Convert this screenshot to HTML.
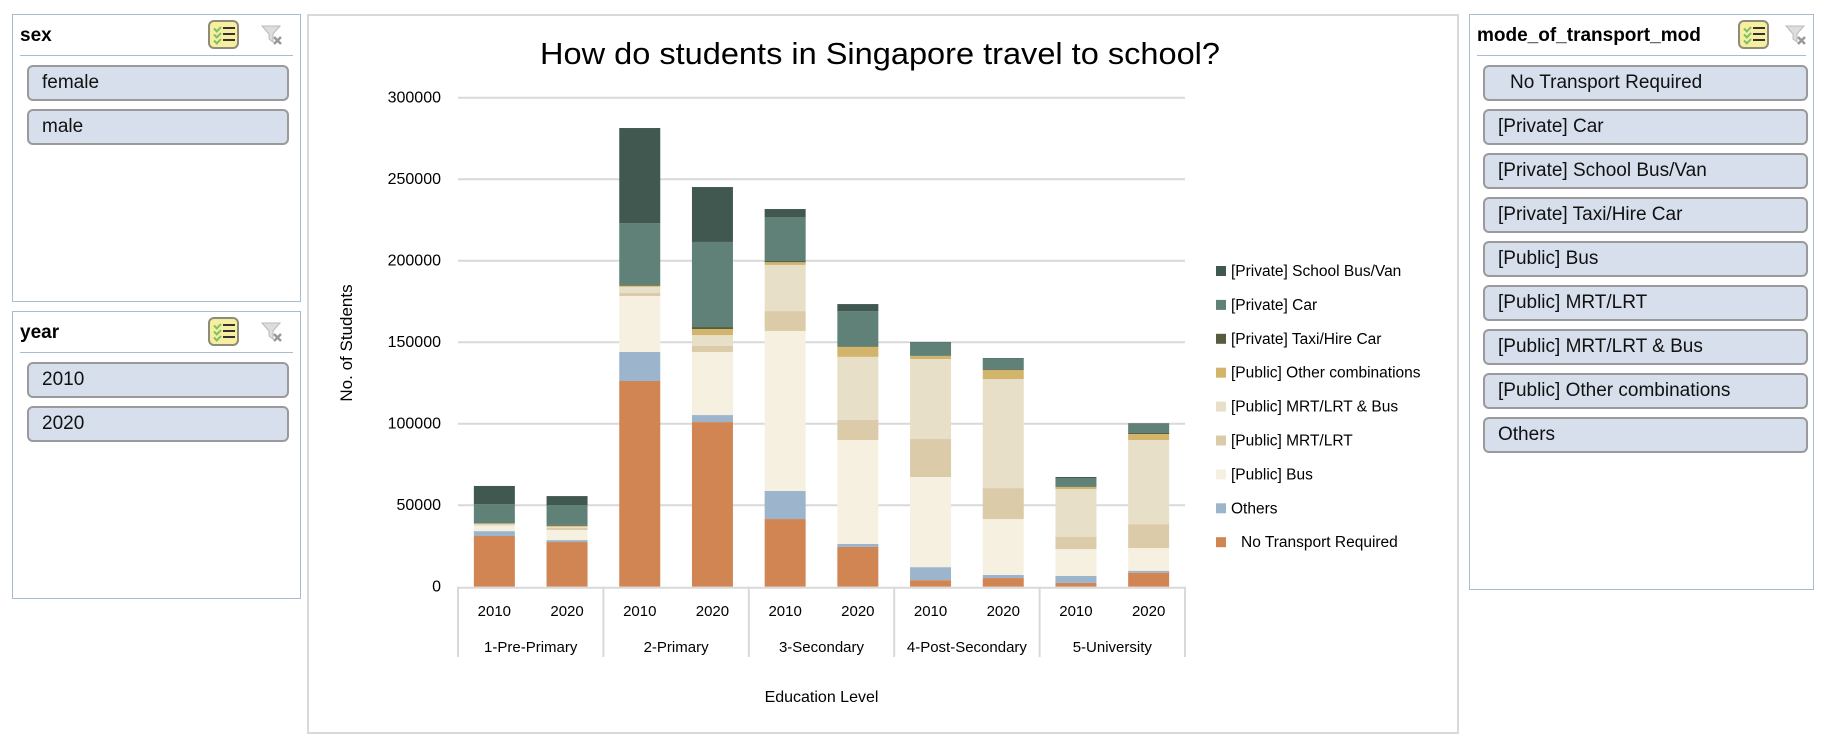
<!DOCTYPE html>
<html><head><meta charset="utf-8">
<style>
body{margin:0;width:1840px;height:748px;background:#fff;font-family:"Liberation Sans",sans-serif;overflow:hidden;position:relative}
.panel{position:absolute;border:1px solid #a7bcd3;background:#fff;box-sizing:border-box}
.ph{position:absolute;left:7px;top:10px;font-weight:bold;font-size:19px;color:#000}
.hl{position:absolute;left:7px;right:7px;top:40px;border-top:1px solid #a7bcd3}
.item{position:absolute;height:36px;border:2px solid #9a9a9a;border-radius:6px;background:#d6dfeb;box-sizing:border-box;font-size:19px;line-height:32px;color:#111}
.ic{position:absolute;width:31px;height:29px;border:2px solid #8c8c7a;border-radius:6px;background:#f7eea0;box-sizing:border-box}
.ic i{position:absolute;left:13px;width:12px;border-top:2px solid #333}
.ic b{position:absolute;left:4px;width:5px;height:3px;border-left:2px solid #7cc06a;border-bottom:2px solid #7cc06a;transform:rotate(-45deg)}
.fl{position:absolute;width:24px;height:24px}
</style></head><body>

<div class="panel" style="left:12px;top:14px;width:289px;height:288px">
 <div class="ph">sex</div>
 <div class="ic" style="left:195px;top:5px"><b style="top:4px"></b><i style="top:5px"></i><b style="top:10px"></b><i style="top:11px"></i><b style="top:16px"></b><i style="top:17px"></i></div>
 <svg class="fl" style="left:247px;top:8px" viewBox="0 0 24 24"><path d="M2 3h18l-7 8v8l-4-3v-5z" fill="#ddd" stroke="#bbb"/><path d="M14 14l7 7M21 14l-7 7" stroke="#999" stroke-width="2.5"/></svg>
 <div class="hl"></div>
 <div class="item" style="left:14px;top:50px;width:262px;padding-left:13px">female</div>
 <div class="item" style="left:14px;top:94px;width:262px;padding-left:13px">male</div>
</div>

<div class="panel" style="left:12px;top:311px;width:289px;height:288px">
 <div class="ph">year</div>
 <div class="ic" style="left:195px;top:5px"><b style="top:4px"></b><i style="top:5px"></i><b style="top:10px"></b><i style="top:11px"></i><b style="top:16px"></b><i style="top:17px"></i></div>
 <svg class="fl" style="left:247px;top:8px" viewBox="0 0 24 24"><path d="M2 3h18l-7 8v8l-4-3v-5z" fill="#ddd" stroke="#bbb"/><path d="M14 14l7 7M21 14l-7 7" stroke="#999" stroke-width="2.5"/></svg>
 <div class="hl"></div>
 <div class="item" style="left:14px;top:50px;width:262px;padding-left:13px">2010</div>
 <div class="item" style="left:14px;top:94px;width:262px;padding-left:13px">2020</div>
</div>

<div class="panel" style="left:1469px;top:14px;width:345px;height:576px">
 <div class="ph">mode_of_transport_mod</div>
 <div class="ic" style="left:268px;top:5px"><b style="top:4px"></b><i style="top:5px"></i><b style="top:10px"></b><i style="top:11px"></i><b style="top:16px"></b><i style="top:17px"></i></div>
 <svg class="fl" style="left:314px;top:8px" viewBox="0 0 24 24"><path d="M2 3h18l-7 8v8l-4-3v-5z" fill="#ddd" stroke="#bbb"/><path d="M14 14l7 7M21 14l-7 7" stroke="#999" stroke-width="2.5"/></svg>
 <div class="hl"></div>
 <div id="titems"></div>
</div>

<div class="panel" style="left:307px;top:14px;width:1152px;height:720px;border:2px solid #d9d9d9">
<svg id="chart" width="1152" height="720" style="position:absolute;left:-2px;top:-2px"></svg>
</div>

<script>
const categories=["1-Pre-Primary","2-Primary","3-Secondary","4-Post-Secondary","5-University"];
const years=["2010","2020"];
const seriesNames=["No Transport Required","Others","[Public] Bus","[Public] MRT/LRT","[Public] MRT/LRT & Bus","[Public] Other combinations","[Private] Taxi/Hire Car","[Private] Car","[Private] School Bus/Van"];
const noTransport=[31100,27400,126200,101000,41500,24400,4000,5300,2300,8600];
const others=[3000,1200,17800,4300,17200,1800,8000,1900,4300,1200];
const publicBus=[3500,6200,34300,38700,98200,63800,55300,34300,16500,13900];
const publicMrt=[600,1400,1900,3700,12200,12300,23300,19000,7400,14700];
const publicMrtBus=[300,600,3800,6700,28300,38700,49100,66900,29400,51600];
const publicOther=[300,600,700,3700,1700,6100,1900,5500,1300,3700];
const privateTaxi=[100,500,400,1200,700,400,0,500,0,600];
const privateCar=[11800,12200,38000,52200,27000,21600,8100,6500,5500,5500];
const schoolBus=[11100,5500,58300,33700,4900,4300,400,400,600,400];
const yTicks=[0,50000,100000,150000,200000,250000,300000];
const legendOrder=[8,7,6,5,4,3,2,1,0];
const slicerItems=["No Transport Required","[Private] Car","[Private] School Bus/Van","[Private] Taxi/Hire Car","[Public] Bus","[Public] MRT/LRT","[Public] MRT/LRT & Bus","[Public] Other combinations","Others"];

const colors=["#d08552","#9cb4cc","#f6f0e1","#dccba8","#e8dfc8","#d2b46a","#565c40","#5f8177","#415850"];
const series=[noTransport,others,publicBus,publicMrt,publicMrtBus,publicOther,privateTaxi,privateCar,schoolBus];

const ti=document.getElementById('titems');
slicerItems.forEach((t,i)=>{const d=document.createElement('div');d.className='item';


d.style.left='13px';d.style.top=(50+i*44)+'px';d.style.width='325px';d.style.paddingLeft=(i==0?'25px':'13px');d.textContent=t;ti.appendChild(d);});

const svg=document.getElementById('chart');const NS='http://www.w3.org/2000/svg';
const OX=307,OY=14;
function el(tag,a,txt){const e=document.createElementNS(NS,tag);for(const k in a)e.setAttribute(k,a[k]);if(txt!==undefined)e.textContent=txt;svg.appendChild(e);return e;}
const pL=458-OX,pR=1185-OX,y0=586.7-OY,yTop=97.7-OY,yMax=300000;
const yS=v=>y0-(v/yMax)*(y0-yTop);
const nb=categories.length*years.length,slot=(pR-pL)/nb,bw=41;
const xS=i=>pL+slot*i+(slot-bw)/2;

let t=el('text',{x:880-OX,y:64-OY,'font-size':31,'text-anchor':'middle',fill:'#000',textLength:680,lengthAdjust:'spacingAndGlyphs'},'How do students in Singapore travel to school?');


yTicks.forEach(v=>{
 if(v>0){const g=el('line',{x1:pL,x2:pR,y1:yS(v),y2:yS(v),stroke:'#d9d9d9','stroke-width':2});}
 const l=el('text',{x:441-OX,y:yS(v)+5,'font-size':16,'text-anchor':'end',fill:'#000'},String(v));
 
});
t=el('text',{x:0,y:0,'font-size':17,'text-anchor':'middle',fill:'#000',transform:`translate(${352-OX},${343-OY}) rotate(-90)`},'No. of Students');


for(let b=0;b<nb;b++){let c=0;
 series.forEach((s,k)=>{const v=s[b];if(v<=0){return;}
  const r=el('rect',{x:xS(b),y:yS(c+v),width:bw,height:yS(c)-yS(c+v),fill:colors[k]});
  c+=v;});
 const yl=el('text',{x:xS(b)+bw/2,y:616-OY,'font-size':15,'text-anchor':'middle',fill:'#000'},years[b%2]);
 
}
const ax=el('line',{x1:pL,x2:pR,y1:y0+1,y2:y0+1,stroke:'#d9d9d9','stroke-width':2});

for(let c=0;c<=categories.length;c++){const x=pL+slot*2*c;
 const s=el('line',{x1:x,x2:x,y1:y0,y2:657-OY,stroke:'#d9d9d9','stroke-width':2});
 
 if(c<categories.length){const l=el('text',{x:x+slot,y:652-OY,'font-size':15,'text-anchor':'middle',fill:'#000'},categories[c]);
 }
}
t=el('text',{x:(pL+pR)/2,y:702-OY,'font-size':16,'text-anchor':'middle',fill:'#000'},'Education Level');


legendOrder.forEach((k,i)=>{const cy=271+i*33.9-OY;
 const r=el('rect',{x:1216-OX,y:cy-5,width:10,height:10,fill:colors[k]});
 
 const l=el('text',{x:(k==0?1241:1231)-OX,y:cy+5,'font-size':15.5,fill:'#000'},seriesNames[k]);
 
});
</script>
</body></html>
